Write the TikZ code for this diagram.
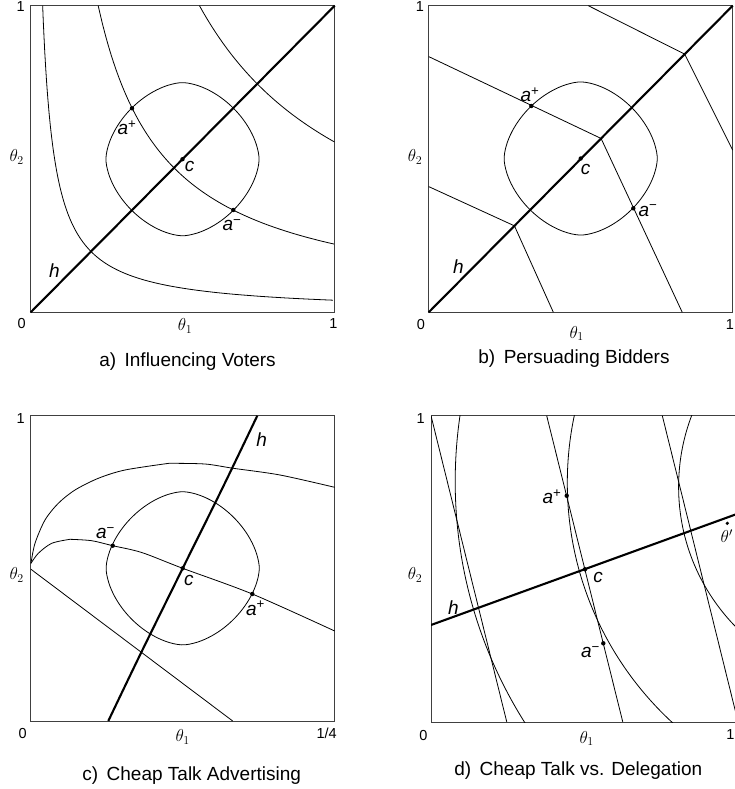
\documentclass[tikz,border=0pt]{standalone}
\usepackage{fontspec}
\setmainfont{Liberation Sans}
\newcommand\myblob[3]{\draw[curve] plot[domain=1:358,samples=120,variable=\t,smooth cycle]
  ({#1+76.6*cos(\t)/((abs(cos(\t))^1.7+abs(sin(\t))^1.7)^(1/1.7))},
   {#2+76.6*sin(\t)/((abs(cos(\t))^1.7+abs(sin(\t))^1.7)^(1/1.7))});}
\begin{document}
\begin{tikzpicture}[x=1pt,y=-1pt,
  frame/.style={draw=black!75,line width=0.9pt},
  curve/.style={line width=0.8pt},
  hline/.style={line width=2.1pt},
  dot/.style={circle,fill,inner sep=0pt,minimum size=4.4pt},
  lab/.style={font=\fontsize{19}{21}\selectfont\itshape,inner sep=0pt},
  num/.style={font=\fontsize{14.5}{16}\selectfont,inner sep=0pt},
  th/.style={font=\fontsize{17}{19}\selectfont,inner sep=0pt},
  captext/.style={font=\fontsize{19}{22}\selectfont,anchor=base,inner sep=0pt}]
\useasboundingbox (0,0) rectangle (734,789);

% ---------------- panel a ----------------
\draw[frame] (30.7,5.7) rectangle (334.7,312.3);
\begin{scope}[shift={(30.7,312.3)},x={(304pt,0pt)},y={(0pt,306.6pt)}]
  \foreach \k in {0.039,0.222,0.555}
    \draw[curve] plot[domain=0:1,samples=150,variable=\t] ({exp(ln(\k)*(1-\t))},{exp(ln(\k)*\t)});
  \draw[hline] (0,0) -- (1,1);
\end{scope}
\myblob{182.5}{159.2}{a}
\node[dot] (aap) at (132,108.3) {};
\node[dot] (aac) at (182.5,159.2) {};
\node[dot] (aam) at (233.3,210) {};
\node[lab] (aapl) at (127,128) {a\textsuperscript{\upshape +}};
\node[lab] (aacl) at (189.5,166) {c};
\node[lab] (aaml) at (232,225) {a\textsuperscript{\upshape −}};
\node[lab] (aahl) at (54.3,270.7) {h};
\node[num] (aone) at (20.7,6.7) {1};
\node[num] (azero) at (21.7,323.3) {0};
\node[num] (aonex) at (333.3,323.3) {1};
\node[th] (ath1) at (185,326) {$\theta_1$};
\node[th] (ath2) at (16.7,157) {$\theta_2$};
\node[captext] (acap) at (187.5,366.5) {a)\, Influencing Voters};

% ---------------- panel b ----------------
\draw[frame] (428.7,5.7) rectangle (732.7,312.3);
\begin{scope}[shift={(428.7,312.3)},x={(304pt,0pt)},y={(0pt,306.6pt)}]
  \draw[curve] (0.525,1) -- (0.842,0.842) -- (1,0.529);
  \draw[curve] (0,0.834) -- (0.567,0.567) -- (0.834,0);
  \draw[curve] (0,0.41) -- (0.282,0.282) -- (0.41,0);
  \draw[hline] (0,0) -- (1,1);
\end{scope}
\myblob{580.7}{158.5}{b}
\node[dot] (bap) at (531.3,106) {};
\node[dot] (bac) at (580.7,158.5) {};
\node[dot] (bam) at (633.3,208.3) {};
\node[lab] (bapl) at (530,95) {a\textsuperscript{\upshape +}};
\node[lab] (bacl) at (585.5,169.3) {c};
\node[lab] (baml) at (648,210.7) {a\textsuperscript{\upshape −}};
\node[lab] (bahl) at (458.3,266.7) {h};
\node[num] (bone) at (420,6.7) {1};
\node[num] (bzero) at (421,325) {0};
\node[num] (bonex) at (730,325) {1};
\node[th] (bth1) at (576.7,333.5) {$\theta_1$};
\node[th] (bth2) at (415,157) {$\theta_2$};
\node[captext] (bcap) at (574,363.3) {b)\, Persuading Bidders};

% ---------------- panel c ----------------
\draw[frame] (30.7,415.7) rectangle (334.7,721);
\draw[curve] plot[smooth] coordinates {(31,563.3) (35,543.3) (45,520) (58.3,503.3) (75,490) (98.3,478.3) (125,470) (169,463.3)};
\draw[curve] plot[smooth] coordinates {(169,463.3) (205,464) (233.3,468.3) (280,475) (334.7,487.3)};
\draw[curve] plot[smooth] coordinates {(31,563.3) (38.3,553.3) (51.7,543.3) (70,539.3)};
\draw[curve] plot[smooth] coordinates {(70,539.3) (91.7,540.7) (112.7,545.7) (141.7,552.5) (182.7,568.3) (252.3,594) (334.7,631)};
\draw[curve] (31,569.3) -- (232.7,721);
\draw[hline] plot[smooth,tension=0.6] coordinates {(108.3,721) (140,655) (182.7,568.3) (222,489) (257.3,415.7)};
\myblob{182.7}{568.3}{c}
\node[dot] (cam) at (112.7,545.7) {};
\node[dot] (cac) at (182.7,568.3) {};
\node[dot] (cpl) at (252.3,594) {};
\node[lab] (caml) at (105.5,533.3) {a\textsuperscript{\upshape −}};
\node[lab] (cacl) at (188.8,580) {c};
\node[lab] (capl) at (255.5,608.3) {a\textsuperscript{\upshape +}};
\node[lab] (cahl) at (261.7,440) {h};
\node[num] (cone) at (20.7,418.3) {1};
\node[num] (czero) at (22.7,733.3) {0};
\node[num] (cq) at (326.7,733.3) {1/4};
\node[th] (cth1) at (182.7,737) {$\theta_1$};
\node[th] (cth2) at (16.7,575) {$\theta_2$};
\node[captext] (ccap) at (191.7,780) {c)\, Cheap Talk Advertising};

% ---------------- panel d ----------------
\draw[frame] (431,415.7) rectangle (736,722.3);
\begin{scope}
  \clip (431,415.7) rectangle (736,722.3);
  \draw[curve] (906.9,481.6) circle[radius=451.7];
  \draw[curve] (893,483) circle[radius=325.7];
  \draw[curve] (878.8,486.8) circle[radius=200.2];
  \draw[curve] (431,415.7) -- (506.7,721.7);
  \draw[curve] (546.7,415.7) -- (622.7,721.7);
  \draw[curve] (662.3,415.7) -- (738,721.7);
  \draw[hline] (431,625) -- (736,514.3);
\end{scope}
\node[dot] (dap) at (566.7,495.7) {};
\node[dot] (dac) at (585,569.3) {};
\node[dot] (dam) at (603.3,643.3) {};
\node[dot,minimum size=3.6pt] (dth) at (727.3,523.3) {};
\node[th,anchor=west] (dthl) at (720.5,536) {$\theta'$};
\node[lab] (dapl) at (552,496.7) {a\textsuperscript{\upshape +}};
\node[lab] (dacl) at (598,577.7) {c};
\node[lab] (daml) at (590.5,652.3) {a\textsuperscript{\upshape −}};
\node[lab] (dahl) at (453.3,607.7) {h};
\node[num] (done) at (420.7,418.3) {1};
\node[num] (dzero) at (423.3,735) {0};
\node[num] (donex) at (730.5,735) {1};
\node[th] (dth1) at (586.7,738.5) {$\theta_1$};
\node[th] (dth2) at (415,575) {$\theta_2$};
\node[captext] (dcap) at (578.3,775) {d)\, Cheap Talk vs. Delegation};
\end{tikzpicture}
\end{document}
